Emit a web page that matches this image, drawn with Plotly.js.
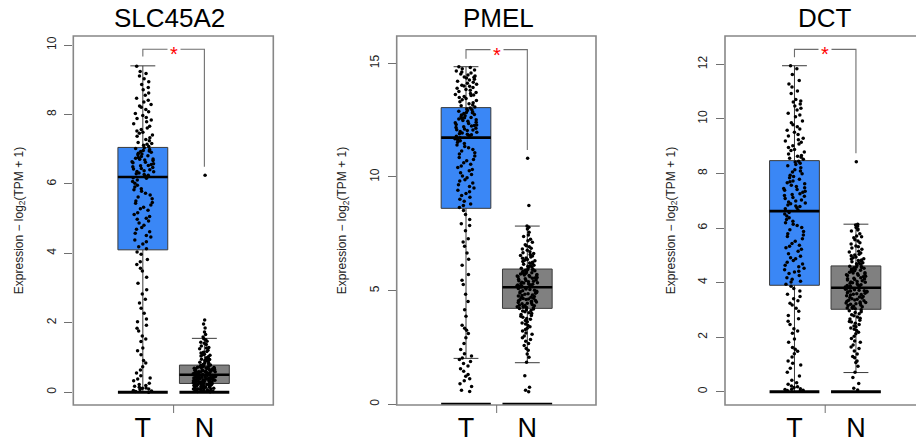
<!DOCTYPE html>
<html>
<head>
<meta charset="utf-8">
<script src="https://cdn.plot.ly/plotly-3.0.1.min.js"></script>
<style>html,body{margin:0;padding:0;background:#fff;}#chart{width:916px;height:444px;}</style>
</head>
<body>
<div id="chart"></div>
<script>
// ---------- data ----------
const genes = ['SLC45A2', 'PMEL', 'DCT'];
const categories = ['T', 'N'];
const yAxisTitle = 'Expression \u2212 log<sub>2</sub>(TPM + 1)';
const baseline = [0, 0];

// SLC45A2 samples
const slcT = [0, 0.03, 0.12, 0.05, 0.19, 0.08, 0.26, 0.14, 0.41, 0.02, 0.33, 0.17, 0.55, 0.09, 0.22, 0.47, 0.11, 0.38, 0.64,
  0.73, 1.08, 0.91, 1.46, 1.27, 1.62, 1.84, 1.53, 1.93, 2.11, 1.76, 2.42, 2.03, 2.68, 2.95, 2.27, 3.14, 2.83, 3.49, 3.31, 3.68, 3.82, 3.57, 3.97, 3.76, 4.04, 1.19, 0.84, 2.57,
  4.13, 4.27, 4.19, 4.38, 4.51, 4.33, 4.62, 4.47, 4.74, 4.58, 4.87, 4.69, 4.93, 5.06, 4.81, 5.17, 5.01, 5.28, 5.12, 5.39, 5.24, 5.46, 5.33, 5.57, 5.51, 5.68, 5.62, 5.79, 5.73, 5.86, 5.91, 5.83, 6.02, 5.96, 6.11, 6.07, 6.16, 5.44, 4.98, 6.18,
  6.22, 6.31, 6.25, 6.38, 6.29, 6.44, 6.35, 6.49, 6.41, 6.56, 6.47, 6.61, 6.53, 6.67, 6.58, 6.72, 6.64, 6.79, 6.69, 6.84, 6.76, 6.91, 6.81, 6.96, 6.88, 7.02, 6.93, 6.99, 6.27, 6.52, 6.74, 6.86, 6.43, 6.62, 7.04, 6.36, 6.95, 6.71,
  7.08, 7.16, 7.11, 7.24, 7.19, 7.33, 7.28, 7.41, 7.37, 7.52, 7.46, 7.61, 7.57, 7.73, 7.66, 7.84, 7.79, 7.97, 7.91, 8.08, 8.03, 8.21, 8.14, 8.36, 8.29, 8.47, 8.41, 8.62, 8.55, 8.78, 8.71, 8.94, 8.86, 9.11, 9.03, 9.24, 9.18, 9.39, 7.14, 7.49, 7.88, 8.24];
const slcN = [0.01, 0.07, 0.03, 0.12, 0.05, 0.18, 0.09, 0.22, 0.14, 0.02, 0.19, 0.11, 0.24, 0.06, 0.16, 0.21, 0.04, 0.13, 0.23, 0.08, 0.17, 0.25, 0.1, 0.2, 0.15, 0.03, 0.24, 0.12, 0.19, 0.07, 0.22, 0.14, 0.09, 0.18, 0.05, 0.23, 0.16, 0.11, 0.21, 0.02,
  0.27, 0.34, 0.29, 0.41, 0.31, 0.46, 0.36, 0.26, 0.43, 0.38, 0.49, 0.32, 0.28, 0.44, 0.39, 0.47, 0.35, 0.3, 0.42, 0.37, 0.48, 0.33, 0.26, 0.45, 0.4, 0.29, 0.5, 0.36, 0.43, 0.31, 0.47, 0.38, 0.27, 0.41, 0.34, 0.45, 0.39, 0.3, 0.48, 0.35,
  0.52, 0.59, 0.54, 0.66, 0.57, 0.71, 0.61, 0.53, 0.68, 0.63, 0.74, 0.56, 0.51, 0.69, 0.64, 0.77, 0.58, 0.55, 0.72, 0.62, 0.76, 0.6, 0.53, 0.67, 0.65, 0.73, 0.57, 0.7, 0.54, 0.75, 0.61, 0.66, 0.52, 0.78, 0.59, 0.69, 0.63, 0.71, 0.56, 0.74,
  0.81, 0.88, 0.84, 0.97, 0.91, 1.06, 0.86, 1.13, 0.94, 1.21, 1.02, 0.83, 1.29, 1.09, 0.99, 1.37, 1.17, 0.89, 1.44, 1.25, 1.04, 1.51, 1.33, 0.92, 1.41, 1.15, 1.54, 0.8, 1.27, 1.08, 1.47, 0.95,
  1.59, 1.66, 1.73, 1.85, 1.96, 2.08, 6.25];
// box statistics [T, N]
const slcQ1 = [4.1, 0.25];
const slcMedian = [6.2, 0.5];
const slcQ3 = [7.05, 0.78];
const slcLowerFence = [0, 0];
const slcUpperFence = [9.4, 1.55];
const slcBracket = [9.67, 9.88, 9.88, 6.49];

// PMEL samples
const pmelT = [0.56, 1.12, 0.78, 1.45, 0.91, 1.68, 1.23, 1.88, 0.62, 1.31, 1.97, 1.04, 1.56, 1.79,
  2.13, 3.26, 2.41, 4.84, 2.04, 3.35, 5.27, 2.67, 6.38, 3.12, 7.28, 2.22, 5.46, 3.48, 7.86, 4.16, 6.95, 2.93, 8.13, 3.87, 5.71, 7.63, 4.52, 8.35, 6.12, 7.14, 8.52, 6.66, 7.94,
  8.66, 9.27, 8.93, 10.04, 9.51, 8.74, 10.42, 9.11, 10.86, 9.73, 11.21, 10.19, 8.81, 11.47, 9.96, 10.63, 9.35, 11.07, 10.27, 11.64, 9.02, 10.77, 9.58, 11.34, 10.48, 9.82, 11.59, 10.11, 9.42, 11.14, 10.92, 9.18, 11.68, 10.56, 9.66, 11.28, 10.33, 9.88, 11.01, 11.41, 10.71, 11.53, 11.72,
  11.76, 12.35, 11.93, 12.72, 12.07, 11.83, 12.55, 12.96, 12.18, 11.79, 12.62, 12.28, 13.03, 11.97, 12.45, 12.86, 12.11, 11.88, 12.79, 12.41, 12.99, 12.21, 11.86, 12.65, 12.04, 12.52, 12.89, 12.31, 11.9, 12.75, 12.14, 12.58, 12.92, 12.24, 12.0, 12.69, 12.38, 12.82, 12.48, 12.26, 12.6, 12.84, 12.08,
  13.08, 13.72, 13.22, 14.17, 13.45, 13.94, 13.13, 14.39, 13.58, 14.03, 13.31, 14.62, 13.81, 13.17, 14.26, 13.49, 14.48, 13.63, 13.99, 13.26, 14.71, 13.85, 14.12, 13.4, 14.35, 13.67, 14.53, 13.9, 13.36, 14.21, 13.76, 14.82, 13.54, 14.08, 14.44, 13.6, 14.3, 14.0, 14.57, 14.66, 14.76, 14.4, 14.85];
const pmelN = [0.55, 0.75, 0.62, 1.26, 8.74, 10.82,
  1.85, 2.38, 2.07, 2.77, 2.21, 3.08, 2.59, 2.46, 3.29, 2.93, 2.68, 3.47, 3.14, 2.85, 3.63, 3.35, 3.01, 3.78, 3.53, 3.22, 3.91, 3.69, 3.41, 4.03, 3.87, 3.58, 4.13, 3.95, 3.74, 4.19, 4.07, 3.83, 4.1, 3.99, 4.16, 4.21,
  4.25, 4.63, 4.31, 4.88, 4.42, 5.02, 4.28, 4.71, 4.53, 5.11, 4.36, 4.79, 4.47, 4.95, 4.6, 4.33, 5.07, 4.84, 4.39, 4.67, 4.92, 4.5, 5.13, 4.74, 4.26, 4.57, 4.99, 4.44, 4.81, 4.65, 5.05, 4.35, 4.76, 4.55, 4.9, 4.29, 4.69, 5.09, 4.48, 4.86, 4.61, 4.97,
  5.17, 5.52, 5.23, 5.76, 5.34, 5.88, 5.2, 5.61, 5.41, 5.93, 5.28, 5.69, 5.47, 5.81, 5.19, 5.56, 5.37, 5.73, 5.26, 5.64, 5.9, 5.44, 5.31, 5.79, 5.58, 5.22, 5.85, 5.5, 5.66, 5.39, 5.94, 5.29, 5.71, 5.54, 5.83, 5.35, 5.62, 5.45, 5.77, 5.25, 5.67, 5.91,
  5.98, 6.42, 6.07, 6.86, 6.19, 6.55, 6.02, 7.13, 6.31, 6.71, 6.12, 7.38, 6.48, 6.25, 6.93, 6.04, 7.57, 6.37, 6.63, 6.16, 7.02, 6.78, 6.09, 7.26, 6.52, 6.28, 7.71, 6.44, 6.97, 6.22, 6.67, 7.45, 6.34, 6.83, 7.19, 6.59, 7.79, 7.84];
const pmelQ1 = [8.62, 4.22];
const pmelMedian = [11.73, 5.15];
const pmelQ3 = [13.05, 5.95];
const pmelLowerFence = [2.02, 1.83];
const pmelUpperFence = [14.85, 7.84];
const pmelBracket = [15.2, 15.6, 15.6, 11.19];

// DCT samples
const dctT = [0.02, 0.08, 0.15, 0.05, 0.21, 0.11, 0.33, 0.04, 0.27, 0.18, 0.42, 0.09,
  0.57, 1.12, 0.71, 1.48, 0.86, 1.93, 1.04, 2.31, 1.27, 2.58, 1.62, 2.14, 2.79, 1.39, 3.06, 2.46, 3.24, 1.81, 3.41, 2.67, 3.18, 3.57, 2.22, 3.33, 3.69, 2.95, 3.78, 1.55, 3.49, 3.86, 0.98,
  3.94, 4.63, 4.12, 5.28, 4.41, 5.87, 4.05, 4.87, 5.51, 4.26, 6.14, 4.74, 5.06, 6.38, 4.52, 5.69, 4.18, 6.02, 4.96, 5.37, 6.51, 4.33, 5.79, 4.68, 6.25, 5.15, 4.47, 5.94, 4.81, 6.44, 5.43, 4.02, 5.61, 6.09, 4.58, 5.22, 6.57, 4.91, 5.74, 6.31, 5.33, 4.39, 6.19,
  6.66, 7.31, 6.84, 7.72, 6.95, 8.14, 6.71, 7.48, 7.08, 8.33, 6.79, 7.57, 7.19, 7.93, 6.89, 8.05, 7.38, 6.74, 7.84, 7.12, 8.42, 7.26, 6.99, 7.66, 8.21, 7.03, 7.45, 6.92, 8.28, 7.79, 7.16, 8.37, 7.62, 6.81, 7.89, 7.35, 8.09, 7.52, 7.23, 7.99, 8.45, 7.41, 7.7,
  8.52, 9.14, 8.71, 9.63, 8.88, 10.21, 8.59, 9.37, 9.02, 10.47, 8.66, 9.51, 8.95, 9.86, 10.62, 8.79, 9.24, 10.08, 9.71, 8.56, 9.43, 10.33, 9.08, 10.71, 8.84, 9.92, 9.29, 10.55, 9.58, 10.14, 8.63, 9.79, 10.39, 9.19, 10.66, 11.02, 11.28, 10.93, 11.41, 11.17, 11.63, 11.84, 11.95];
const dctN = [0.06, 0.12, 0.3, 0.52, 8.43,
  0.71, 1.24, 0.93, 1.58, 1.07, 1.86, 1.38, 2.03, 1.12, 1.71, 2.24, 1.49, 2.41, 1.95, 2.57, 1.64, 2.33, 2.69, 2.12, 2.78, 2.46, 1.81, 2.86, 2.62, 2.18, 2.93, 2.51, 2.74, 2.97, 2.29, 2.82, 2.38, 3.0, 2.66, 2.9, 1.29, 2.55,
  3.04, 3.41, 3.11, 3.63, 3.22, 3.75, 3.07, 3.49, 3.31, 3.79, 3.16, 3.56, 3.27, 3.68, 3.09, 3.45, 3.36, 3.72, 3.2, 3.59, 3.8, 3.33, 3.13, 3.66, 3.52, 3.25, 3.77, 3.39, 3.61, 3.18, 3.7, 3.29, 3.54, 3.43, 3.74, 3.06, 3.47, 3.65, 3.35, 3.57, 3.24, 3.69,
  3.84, 4.21, 3.9, 4.45, 4.02, 4.57, 3.87, 4.32, 4.11, 4.6, 3.95, 4.38, 4.07, 4.52, 3.83, 4.26, 4.16, 4.49, 3.99, 4.35, 4.55, 4.04, 3.92, 4.41, 4.29, 3.86, 4.58, 4.13, 4.43, 3.97, 4.23, 4.5, 4.09, 4.36, 3.89, 4.18, 4.54, 4.27, 4.01, 4.47, 4.14, 4.31,
  4.64, 5.08, 4.72, 5.46, 4.83, 5.71, 4.67, 5.22, 4.91, 5.89, 4.76, 5.34, 4.98, 6.02, 4.69, 5.15, 5.57, 4.87, 6.11, 5.27, 4.79, 5.64, 5.01, 5.93, 4.94, 5.41, 4.73, 5.79, 5.12, 6.14, 4.86, 5.52, 5.04, 5.96, 4.81, 5.31, 5.68, 6.07];
const dctQ1 = [3.9, 3.02];
const dctMedian = [6.62, 3.81];
const dctQ3 = [8.47, 4.61];
const dctLowerFence = [0, 0.7];
const dctUpperFence = [11.95, 6.14];
const dctBracket = [12.26, 12.55, 12.55, 8.74];

// ---------- presentation ----------
const W = 916, H = 444;
const boxColors = ['#3a87f6', '#808080'];
const panels = [
  {gene: genes[0], t: slcT, n: slcN, q1: slcQ1, med: slcMedian, q3: slcQ3, lo: slcLowerFence, hi: slcUpperFence, br: slcBracket,
   dom: [73.3, 273.3], xr: [-1.13, 2.12], yr: [-0.37, 10.26], dt: 2, titleX: 169.3, frameRight: 273.3},
  {gene: genes[1], t: pmelT, n: pmelN, q1: pmelQ1, med: pmelMedian, q3: pmelQ3, lo: pmelLowerFence, hi: pmelUpperFence, br: pmelBracket,
   dom: [396.7, 596], xr: [-1.13, 2.12], yr: [-0.03, 16.2], dt: 5, titleX: 498, frameRight: 596},
  {gene: genes[2], t: dctT, n: dctN, q1: dctQ1, med: dctMedian, q3: dctQ3, lo: dctLowerFence, hi: dctUpperFence, br: dctBracket,
   dom: [725, 916], xr: [-1.13, 1.977], yr: [-0.49, 13.04], dt: 2, titleX: 825, frameRight: 926}
];

const BW = 0.81;
const traces = [];
const layout = {
  width: W, height: H,
  margin: {l: 0, r: 0, t: 36, b: 39, pad: 0},
  paper_bgcolor: '#ffffff', plot_bgcolor: '#ffffff',
  showlegend: false, boxmode: 'overlay',
  font: {family: 'Liberation Sans, Arial, Helvetica, sans-serif', color: '#000'},
  shapes: [], annotations: []
};
const plotH = H - 36 - 39;

panels.forEach((p, i) => {
  const sfx = i === 0 ? '' : String(i + 1);
  const xa = 'x' + sfx, ya = 'y' + sfx;
  const common = {xaxis: xa, yaxis: ya, hoverinfo: 'skip', width: BW};
  // main boxes (precomputed stats)
  categories.forEach((c, k) => {
    traces.push(Object.assign({
      type: 'box', x: [c], q1: [p.q1[k]], median: [p.med[k]], q3: [p.q3[k]],
      lowerfence: [p.lo[k]], upperfence: [p.hi[k]],
      fillcolor: boxColors[k], line: {color: '#3a3a3a', width: 1}, whiskerwidth: 0.5, boxpoints: false
    }, common));
  });
  // jittered sample points
  [p.t, p.n].forEach((vals, k) => {
    traces.push(Object.assign({
      type: 'box', y: vals, x0: categories[k], boxpoints: 'all', jitter: 0.45, pointpos: 0,
      marker: {color: '#000', size: 3.5, line: {width: 0}},
      fillcolor: 'rgba(0,0,0,0)', line: {color: 'rgba(0,0,0,0)', width: 0}, whiskerwidth: 0
    }, common));
  });
  // thick median bars
  traces.push(Object.assign({
    type: 'box', x: categories, q1: p.med, median: p.med, q3: p.med, lowerfence: p.med, upperfence: p.med,
    fillcolor: 'rgba(0,0,0,0)', line: {color: '#000', width: 2.6}, whiskerwidth: 0, boxpoints: false
  }, common));
  // thick baseline bars at zero
  traces.push(Object.assign({
    type: 'box', x: categories, q1: baseline, median: baseline, q3: baseline, lowerfence: baseline, upperfence: baseline,
    fillcolor: 'rgba(0,0,0,0)', line: {color: '#000', width: 3}, whiskerwidth: 0, boxpoints: false
  }, common));
  // significance bracket
  traces.push({
    type: 'scatter', mode: 'lines', x: [categories[0], categories[0], categories[1], categories[1]], y: p.br,
    line: {color: '#6e6e6e', width: 1.1}, xaxis: xa, yaxis: ya, hoverinfo: 'skip'
  });

  layout['xaxis' + sfx] = {
    domain: [p.dom[0] / W, p.dom[1] / W], range: p.xr, type: 'category',
    categoryorder: 'array', categoryarray: categories,
    showgrid: false, zeroline: false, showline: false, ticks: '',
    tickfont: {size: 27, color: '#000'}, anchor: ya, fixedrange: true, ticklabelstandoff: 4
  };
  layout['yaxis' + sfx] = {
    domain: [0, 1], range: p.yr, dtick: p.dt, tick0: 0, anchor: xa,
    showgrid: false, zeroline: false, showline: false,
    ticks: 'outside', ticklen: 8, tickwidth: 1, tickcolor: '#707070', tickangle: -90,
    tickfont: {size: 12, color: '#222'}, ticklabelstandoff: 4,
    title: {text: yAxisTitle, font: {size: 12, color: '#222'}, standoff: 18}, fixedrange: true
  };
  // frame
  layout.shapes.push({type: 'rect', xref: 'paper', yref: 'paper', x0: p.dom[0] / W, x1: p.frameRight / W, y0: 0, y1: 1,
    line: {color: '#878787', width: 1.6}, layer: 'above'});
  // single x tick between the groups
  layout.shapes.push({type: 'line', xref: xa, yref: 'paper', x0: 0.5, x1: 0.5, y0: 0, y1: -8 / plotH,
    line: {color: '#707070', width: 1}});
  // panel title
  layout.annotations.push({xref: 'paper', yref: 'paper', x: p.titleX / W, y: (405 - 18) / plotH,
    xanchor: 'center', yanchor: 'middle', text: p.gene, showarrow: false, font: {size: 26, color: '#000'}});
  // significance star
  layout.annotations.push({xref: xa, yref: ya, x: 0.5, y: p.br[1], text: '*', showarrow: false,
    font: {size: 20, color: '#ff0000'}, bgcolor: '#ffffff', borderpad: 2, yshift: -5, xanchor: 'center', yanchor: 'middle'});
});

Plotly.newPlot('chart', traces, layout, {staticPlot: true, displayModeBar: false});
</script>
</body>
</html>
